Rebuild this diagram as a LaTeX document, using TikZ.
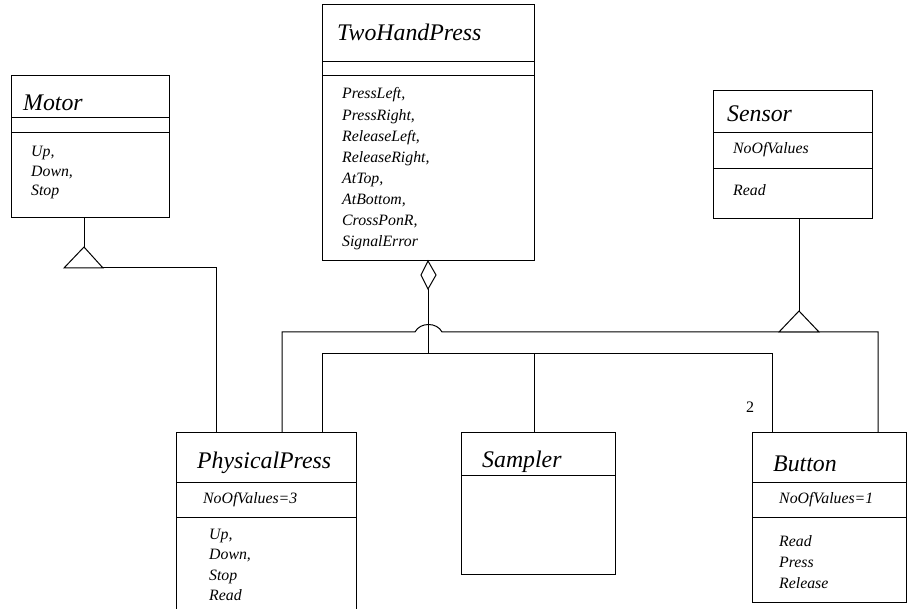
\documentclass[tikz,border=0pt]{standalone}
\usepackage{fontspec}
\setmainfont{Liberation Serif}
\usetikzlibrary{calc}
\begin{document}
\begin{tikzpicture}[x=1pt,y=-1pt,
  box/.style={draw, line width=1pt, anchor=north west, inner sep=0pt, outer sep=0pt},
  ttl/.style={anchor=base west, inner sep=0pt, font=\fontsize{23.8}{24}\selectfont\itshape},
  itm/.style={anchor=base west, inner sep=0pt, font=\fontsize{15.8}{16}\selectfont\itshape},
  ln/.style={line width=1pt},
  hollow/.style={line width=1pt, fill=white}]
\clip (0,0) rectangle (907,609);
\fill[white] (0,0) rectangle (907,609);
% boxes
\node[box, minimum width=158, minimum height=142] (motor) at (11,76) {};
\node[box, minimum width=212, minimum height=256] (thp) at (322,5) {};
\node[box, minimum width=159, minimum height=128] (sensor) at (713,91) {};
\node[box, minimum width=180, minimum height=200] (pp) at (176,432) {};
\node[box, minimum width=154, minimum height=142] (sampler) at (461,432) {};
\node[box, minimum width=154, minimum height=170] (button) at (752,432) {};
% separators
\foreach \n/\y in {motor/118, motor/133, thp/62, thp/76, sensor/133, sensor/169, pp/482, pp/517, sampler/475, button/482, button/517}
  \draw[ln] (\n.west |- 0,\y) -- (\n.east |- 0,\y);
% titles
\node[ttl] (tmotor) at (23,111) {Motor};
\node[ttl] (tthp) at (337,41) {TwoHandPress};
\node[ttl] (tsensor) at (727,122) {Sensor};
\node[ttl] (tpp) at (197,468) {PhysicalPress};
\node[ttl] (tsampler) at (482,467) {Sampler};
\node[ttl] (tbutton) at (773,471) {Button};
% attributes
\node[itm] (asensor) at (733,154) {NoOfValues};
\node[itm] (app) at (203,503) {NoOfValues=3};
\node[itm] (abutton) at (779,503) {NoOfValues=1};
% operations
\foreach \t [count=\i] in {{Up,},{Down,},{Stop}}
  \node[itm] (omotor\i) at (31,{157+19.5*(\i-1)}) {\t};
\foreach \t [count=\i] in {{PressLeft,},{PressRight,},{ReleaseLeft,},{ReleaseRight,},{AtTop,},{AtBottom,},{CrossPonR,},{SignalError}}
  \node[itm] (othp\i) at (342,{99+21.1*(\i-1)}) {\t};
\node[itm] (osensor1) at (733,196) {Read};
\foreach \t [count=\i] in {{Up,},{Down,},{Stop},{Read}}
  \node[itm] (opp\i) at (209,{539+20.5*(\i-1)}) {\t};
\foreach \t [count=\i] in {{Read},{Press},{Release}}
  \node[itm] (obutton\i) at (779,{546+21*(\i-1)}) {\t};
% multiplicity
\node[anchor=base west, inner sep=0pt, font=\fontsize{16}{16}\selectfont] (mult) at (746,412) {2};
% Motor generalization
\coordinate (mtip) at (84,247);
\coordinate (mbl) at (64,268);
\coordinate (mbr) at (103,268);
\coordinate (mturn) at (216,268);
\draw[ln] (motor.south -| mtip) -- (mtip);
\draw[hollow] (mtip) -- (mbr) -- (mbl) -- cycle;
\draw[ln] (mbr) -- (mturn) -- (mturn |- pp.north);
% Sensor generalization
\coordinate (stip) at (799,311);
\coordinate (sbl) at (779,332);
\coordinate (sbr) at (819,332);
\coordinate (gl) at (282,332);
\coordinate (gr) at (878,332);
\coordinate (hopl) at (415,332);
\coordinate (hopr) at (442,332);
\draw[ln] (gl |- pp.north) -- (gl) -- (hopl) .. controls (420,322) and (437,322) .. (hopr) -- (gr) -- (gr |- button.north);
\draw[ln] (sensor.south -| stip) -- (stip);
\draw[hollow] (stip) -- (sbr) -- (sbl) -- cycle;
% aggregation
\coordinate (dtop) at (428,261);
\coordinate (dr) at (436,275);
\coordinate (dbot) at (428,289);
\coordinate (dl) at (421,275);
\coordinate (bus) at (428,353);
\coordinate (bl) at (322,353);
\coordinate (bm) at (534,353);
\coordinate (br) at (772,353);
\draw[hollow] (thp.south -| dtop) -- (dr) -- (dbot) -- (dl) -- cycle;
\draw[ln] (dbot) -- (bus);
\draw[ln] (bl |- pp.north) -- (bl) -- (br) -- (br |- button.north);
\draw[ln] (bm) -- (bm |- sampler.north);
\end{tikzpicture}
\end{document}
